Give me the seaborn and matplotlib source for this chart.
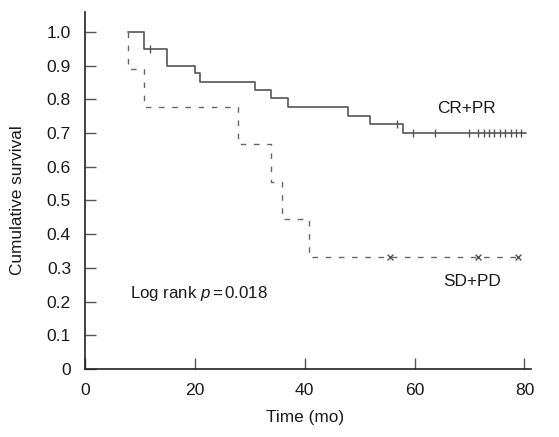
import matplotlib
matplotlib.use("Agg")
import matplotlib.pyplot as plt
import seaborn as sns
import pandas as pd

# Kaplan-Meier steps (time in months, cumulative survival)
cr_time = [7.9, 10.8, 15.0, 20.0, 20.9, 30.9, 33.9, 37.0, 47.8, 51.8, 57.9, 80.2]
cr_surv = [1.0, 0.95, 0.90, 0.877, 0.852, 0.827, 0.804, 0.777, 0.751, 0.728, 0.701, 0.701]
cr_cens_time = [11.9, 56.8, 59.7, 63.8, 69.9, 71.6, 72.6, 73.5, 74.5, 75.5, 76.4, 77.5, 78.4, 79.4]
cr_cens_surv = [0.95, 0.728, 0.701, 0.701, 0.701, 0.701, 0.701, 0.701, 0.701, 0.701, 0.701, 0.701, 0.701, 0.701]

sd_time = [7.9, 7.9, 10.7, 27.9, 33.9, 35.8, 40.8, 78.8]
sd_surv = [1.0, 0.889, 0.778, 0.667, 0.556, 0.444, 0.333, 0.333]
sd_cens_time = [55.6, 71.6, 78.8]
sd_cens_surv = [0.333, 0.333, 0.333]

x_ticks = [0, 20, 40, 60, 80]
y_ticks = [0, 0.1, 0.2, 0.3, 0.4, 0.5, 0.6, 0.7, 0.8, 0.9, 1.0]
y_tick_labels = ["0", "0.1", "0.2", "0.3", "0.4", "0.5", "0.6", "0.7", "0.8", "0.9", "1.0"]

sns.set_style("ticks")
plt.rcParams["font.family"] = ["Liberation Sans", "DejaVu Sans"]
plt.rcParams["mathtext.fontset"] = "custom"
plt.rcParams["mathtext.rm"] = "Liberation Sans"
plt.rcParams["mathtext.it"] = "Liberation Sans:italic"

fig = plt.figure(figsize=(5.59, 4.37), dpi=100)
ax = fig.add_axes([0.152, 0.1556, 0.798, 0.8175])

cr = pd.DataFrame({"time": cr_time, "surv": cr_surv})
sd = pd.DataFrame({"time": sd_time, "surv": sd_surv})

sns.lineplot(data=cr, x="time", y="surv", ax=ax, drawstyle="steps-post",
             estimator=None, sort=False, color="#555555", linewidth=1.2)
sns.lineplot(data=sd, x="time", y="surv", ax=ax, drawstyle="steps-post",
             estimator=None, sort=False, color="#666666", linewidth=1.0,
             dashes=False)
ax.lines[-1].set_dashes((4, 5.5))

sns.scatterplot(x=cr_cens_time, y=cr_cens_surv, ax=ax, marker="|", s=40,
                color="#555555", linewidth=1.0)
sns.scatterplot(x=sd_cens_time, y=sd_cens_surv, ax=ax, marker="x", s=18,
                color="#555555", linewidth=1.0)

ax.set_xlim(0, 81.2)
ax.set_ylim(0, 1.06)
ax.set_xticks(x_ticks)
ax.set_yticks(y_ticks)
ax.set_yticklabels(y_tick_labels)
ax.tick_params(direction="in", length=8, width=1.0, color="#555555",
               labelsize=12.6, labelcolor="#1a1a1a", pad=10)

for side in ["top", "right"]:
    ax.spines[side].set_visible(False)
for side in ["left", "bottom"]:
    ax.spines[side].set_color("#222222")
    ax.spines[side].set_linewidth(1.2)

ax.set_xlabel("Time (mo)", fontsize=12.4, color="#1a1a1a")
ax.set_ylabel("Cumulative survival", fontsize=12.4, color="#1a1a1a")
ax.xaxis.set_label_coords(0.493, -0.116)
ax.yaxis.set_label_coords(-0.134, 0.473)

ax.text(69.5, 0.772, "CR+PR", fontsize=12.4, color="#1a1a1a", ha="center", va="center")
ax.text(70.5, 0.260, "SD+PD", fontsize=12.4, color="#1a1a1a", ha="center", va="center")
ax.text(20.7, 0.225, r"Log rank $p\,$=$\,$0.018", fontsize=12.2, color="#1a1a1a",
        ha="center", va="center")

fig.savefig("out.png", dpi=100)
